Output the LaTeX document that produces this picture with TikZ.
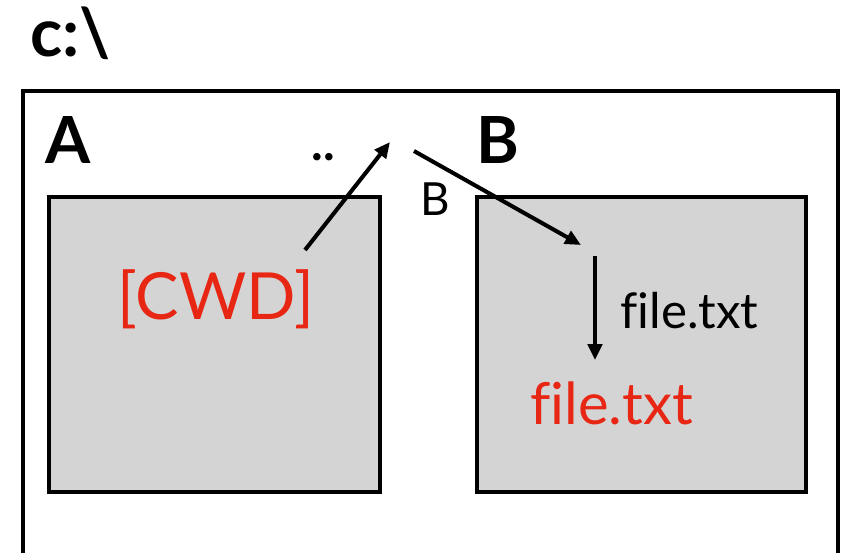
\documentclass[tikz,border=0pt]{standalone}
\usepackage{fontspec}
\setmainfont{Lato}[Ligatures=NoCommon]
\usepackage{xcolor}
\usetikzlibrary{arrows.meta, positioning}
\definecolor{foldergray}{RGB}{212,212,212}
\definecolor{pathred}{RGB}{232,38,20}

\begin{document}
\begin{tikzpicture}[x=0.02cm, y=-0.02cm,
		folder/.style={draw, line width=2.3pt, fill=foldergray, inner sep=0pt},
		hop/.style={-{Triangle[length=9pt, width=8pt]}, line width=2.3pt},
		txt/.style={anchor=base west, inner sep=0pt}]
			\useasboundingbox (0, 0) rectangle (859, 552);
			% Folders:
			\draw[line width=2.8pt] (23, 553) |- (838, 91) -- (838, 553);
			\node[folder, minimum width=6.62cm, minimum height=5.9cm](FA) at (214.5, 344.5){};
			\node[folder, minimum width=6.58cm, minimum height=5.9cm](FB) at (641.5, 344.5){};
			% Texts:
			\node[txt](drive) at (30, 56){\fontsize{38}{38}\selectfont\bfseries c:\textbackslash};
			\node[txt](nameA) at (45, 163){\fontsize{37}{37}\selectfont\bfseries A};
			\node[txt](nameB) at (476, 163){\fontsize{37}{37}\selectfont\bfseries B};
			\node[txt](up) at (311, 160){\fontsize{28}{28}\selectfont\bfseries ..};
			\node[txt](stepB) at (420, 215){\fontsize{26}{26}\selectfont B};
			\node[txt, text=pathred](cwd) at (117, 319){\fontsize{37}{37}\selectfont [CWD]};
			\node[txt](stepF) at (620, 328){\fontsize{28}{28}\selectfont file.txt};
			\node[txt, text=pathred](file) at (530, 424){\fontsize{33}{33}\selectfont file.txt};
			% Arrows:
			\coordinate (C1) at (305, 250);
			\coordinate (C2) at (390, 142);
			\coordinate (C3) at (414, 151);
			\coordinate (C4) at (581, 245);
			\coordinate (C5) at (595, 256);
			\coordinate (C6) at (595, 360);
			\draw[hop] (C1) -- (C2);
			\draw[hop] (C3) -- (C4);
			\draw[hop] (C5) -- (C6);
		\end{tikzpicture}
\end{document}
